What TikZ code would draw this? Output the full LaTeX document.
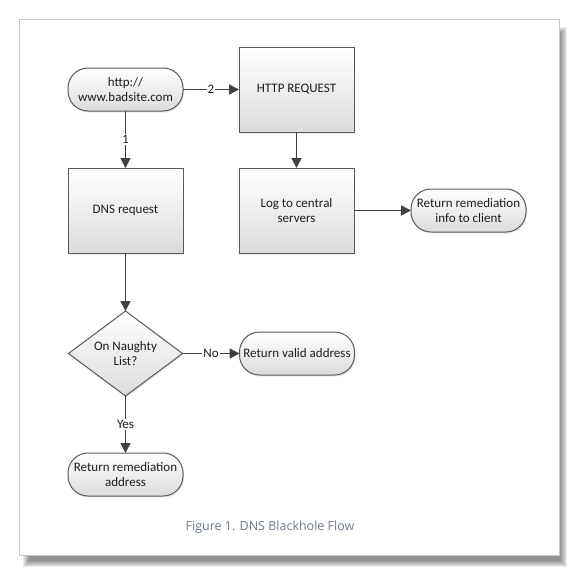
\documentclass[tikz,border=0pt]{standalone}
\usepackage{fontspec}
\setmainfont{Carlito}
\newfontfamily\capfont{Open Sans}
\usepackage{tikz}
\usetikzlibrary{arrows.meta,positioning,shapes.geometric,shadows}
\definecolor{flowline}{RGB}{64,64,64}
\definecolor{flowedge}{RGB}{90,90,90}
\definecolor{flowfill}{RGB}{220,220,220}
\definecolor{flowtext}{RGB}{30,30,30}
\definecolor{captext}{RGB}{108,124,142}
\definecolor{framebd}{RGB}{200,200,200}
\newcommand{\flowfont}{\fontsize{13}{15}\selectfont}
\tikzset{
  flow/base/.style={draw=flowedge, line width=1pt, top color=white, bottom color=flowfill,
    text=flowtext, font=\flowfont, align=center, inner sep=2pt, outer sep=0pt,
    drop shadow={opacity=0.18, shadow xshift=1pt, shadow yshift=-1.5pt}},
  flow/proc/.style={flow/base, rectangle, minimum width=115pt, minimum height=85pt},
  flow/term/.style={flow/base, rectangle, rounded corners=20pt, minimum width=115pt, minimum height=43pt},
  flow/decision/.style={flow/base, diamond, aspect=1.34, inner sep=0pt, minimum width=114pt, minimum height=85pt},
  flow/arrow/.style={draw=flowline, line width=1.6pt, -{Triangle[length=10pt,width=10pt]}},
  flow/label/.style={fill=white, inner sep=1pt, text=flowtext, font=\flowfont}
}

\begin{document}
\begin{tikzpicture}[x=1pt, y=1pt, node distance=57pt]
  \useasboundingbox (0,0) rectangle (580,-576);
  % page and its shadow
  \foreach \s in {0,...,6}
    \fill[black, opacity=0.075] (23+\s,-27-\s) rectangle (567-\s,-567+\s);
  \draw[framebd, fill=white] (19,-19) rectangle (559,-555);

  \node[flow/term] (site) at (125.5,-89.5) {http://\\www.badsite.com};
  \node[flow/proc, right=56pt of site] (httpreq) {HTTP REQUEST};
  \node[flow/proc, below=of site] (dnsreq) {DNS request};
  \node[flow/proc, below=36pt of httpreq] (logsrv) {Log to central\\servers};
  \node[flow/term, right=of logsrv] (info) {Return remediation\\info to client};
  \node[flow/decision, below=58pt of dnsreq] (naughty) {On Naughty\\List?};
  \node[flow/term, right=of naughty] (valid) {Return valid address};
  \node[flow/term, below=of naughty] (remaddr) {Return remediation\\address};

  \draw[flow/arrow] (site) -- node[flow/label] {2} (httpreq);
  \draw[flow/arrow] (site) -- node[flow/label] {1} (dnsreq);
  \draw[flow/arrow] (httpreq) -- (logsrv);
  \draw[flow/arrow] (logsrv) -- (info);
  \draw[flow/arrow] (dnsreq) -- (naughty);
  \draw[flow/arrow] (naughty) -- node[flow/label] {No} (valid);
  \draw[flow/arrow] (naughty) -- node[flow/label] {Yes} (remaddr);

  \node[text=captext, font=\capfont\fontsize{12.5}{15}\selectfont] (caption) at (270,-527) {Figure 1. DNS Blackhole Flow};
\end{tikzpicture}
\end{document}
